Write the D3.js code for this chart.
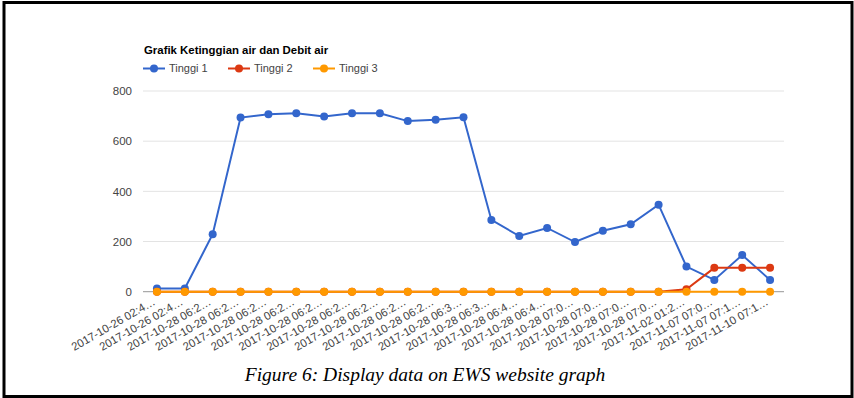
<!DOCTYPE html>
<html>
<head>
<meta charset="utf-8">
<script src="https://cdn.jsdelivr.net/npm/d3@7"></script>
<style>
  body { margin: 0; background: #fff; }
  svg { display: block; }
</style>
</head>
<body>
<svg id="chart" width="854" height="398"></svg>
<script>
// data
var labels = [
  "2017-10-26 02:4…", "2017-10-26 02:4…",
  "2017-10-28 06:2…", "2017-10-28 06:2…", "2017-10-28 06:2…", "2017-10-28 06:2…",
  "2017-10-28 06:2…", "2017-10-28 06:2…", "2017-10-28 06:2…", "2017-10-28 06:2…",
  "2017-10-28 06:2…",
  "2017-10-28 06:3…", "2017-10-28 06:3…",
  "2017-10-28 06:4…", "2017-10-28 06:4…",
  "2017-10-28 07:0…", "2017-10-28 07:0…", "2017-10-28 07:0…", "2017-10-28 07:0…",
  "2017-11-02 01:2…", "2017-11-07 07:0…", "2017-11-07 07:1…", "2017-11-10 07:1…"
];
var tinggi1 = [13, 13, 229, 694, 707, 711, 698, 711, 711, 680, 685, 695,
               286, 222, 254, 198, 243, 269, 347, 100, 47, 146, 47];
var tinggi2 = [0, 0, 0, 0, 0, 0, 0, 0, 0, 0, 0, 0,
               0, 0, 0, 0, 0, 0, 0, 10, 95, 95, 95];
var tinggi3 = [0, 0, 0, 0, 0, 0, 0, 0, 0, 0, 0, 0,
               0, 0, 0, 0, 0, 0, 0, 0, 0, 0, 0];
var seriesNames = ["Tinggi 1", "Tinggi 2", "Tinggi 3"];
var seriesColors = ["#3366cc", "#dc3912", "#ff9900"];
var yTicks = [0, 200, 400, 600, 800];

var font = "Arial, 'Liberation Sans', sans-serif";
var svg = d3.select("#chart");

// frame round the figure
svg.append("rect")
  .attr("x", 4).attr("y", 2.5)
  .attr("width", 848).attr("height", 394)
  .attr("fill", "none")
  .attr("stroke", "#000")
  .attr("stroke-width", 3);

var x = d3.scalePoint()
  .domain(d3.range(labels.length))
  .range([143, 784])
  .padding(0.5);

var y = d3.scaleLinear()
  .domain([0, 800])
  .range([291.7, 91]);

// gridlines
svg.append("g")
  .selectAll("line")
  .data(yTicks.filter(function(d) { return d != 0; }))
  .enter().append("line")
    .attr("x1", 143).attr("x2", 784)
    .attr("y1", function(d) { return y(d); })
    .attr("y2", function(d) { return y(d); })
    .attr("stroke", "#e3e3e3")
    .attr("stroke-width", 1);

// y axis labels
var yAxis = d3.axisLeft(y).tickValues(yTicks).tickSize(0).tickPadding(0);
svg.append("g")
  .attr("transform", "translate(132,0)")
  .call(yAxis)
  .call(function(g) { g.select(".domain").remove(); })
  .selectAll("text")
    .attr("font-family", font)
    .attr("font-size", "11.5px")
    .attr("fill", "#444");

// baseline
svg.append("line")
  .attr("x1", 143).attr("x2", 784)
  .attr("y1", y(0)).attr("y2", y(0))
  .attr("stroke", "#aaa")
  .attr("stroke-width", 1.3);

// slanted x labels
svg.append("g")
  .selectAll("text")
  .data(labels)
  .enter().append("text")
    .attr("transform", function(d, i) { return "translate(" + (x(i) - 1) + ",304) rotate(-30)"; })
    .attr("text-anchor", "end")
    .attr("font-family", font)
    .attr("font-size", "11.3px")
    .attr("fill", "#444")
    .text(function(d) { return d; });

// series
var series = [tinggi1, tinggi2, tinggi3];
var line = d3.line()
  .x(function(d, i) { return x(i); })
  .y(function(d) { return y(d); });

series.forEach(function(values, s) {
  var g = svg.append("g");
  g.append("path")
    .datum(values)
    .attr("d", line)
    .attr("fill", "none")
    .attr("stroke", seriesColors[s])
    .attr("stroke-width", 2);
  g.selectAll("circle")
    .data(values)
    .enter().append("circle")
      .attr("cx", function(d, i) { return x(i); })
      .attr("cy", function(d) { return y(d); })
      .attr("r", 4)
      .attr("fill", seriesColors[s]);
});

// title
svg.append("text")
  .attr("x", 144).attr("y", 54)
  .attr("font-family", font)
  .attr("font-size", "11.4px")
  .attr("font-weight", "bold")
  .attr("fill", "#000")
  .text("Grafik Ketinggian air dan Debit air");

// legend
var legend = svg.append("g")
  .selectAll("g")
  .data(seriesNames)
  .enter().append("g")
    .attr("transform", function(d, i) { return "translate(" + (143 + i * 85) + ",68.5)"; });
legend.append("line")
  .attr("x1", 0).attr("x2", 22)
  .attr("stroke", function(d, i) { return seriesColors[i]; })
  .attr("stroke-width", 2);
legend.append("circle")
  .attr("cx", 11).attr("r", 4)
  .attr("fill", function(d, i) { return seriesColors[i]; });
legend.append("text")
  .attr("x", 26).attr("dy", "0.35em")
  .attr("font-family", font)
  .attr("font-size", "11px")
  .attr("fill", "#444")
  .text(function(d) { return d; });

// caption
svg.append("text")
  .attr("x", 425).attr("y", 381)
  .attr("text-anchor", "middle")
  .attr("font-family", "'Times New Roman', 'Liberation Serif', serif")
  .attr("font-style", "italic")
  .attr("font-size", "19.5px")
  .attr("fill", "#000")
  .text("Figure 6: Display data on EWS website graph");
</script>
</body>
</html>
